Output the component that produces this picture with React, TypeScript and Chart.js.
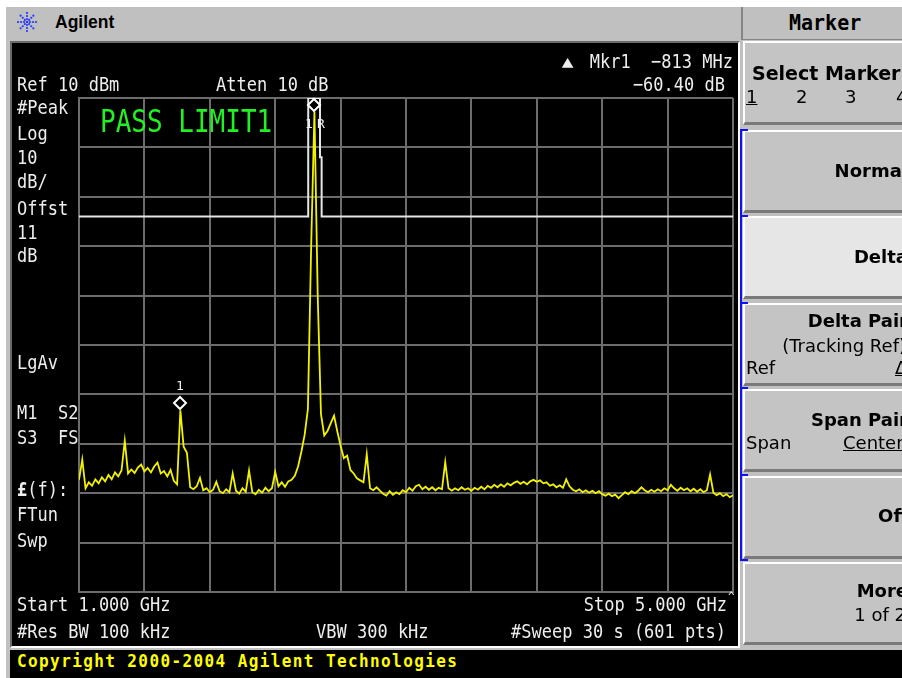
import React, { useEffect, useRef } from "react";
import { Chart, registerables } from "chart.js";

Chart.register(...registerables);

const startGHz = 1.0;
const stopGHz = 5.0;
const refLevelDbm = 10;
const bottomDbm = -90;
const gridDivisions = 11;

// 201 sweep points, 1.000 -> 5.000 GHz (dBm)
const traceDbm = [
  -67.3, -63.2, -69.0, -67.8, -68.5, -67.2, -68.0, -66.8, -67.6, -66.3,
  -67.2, -65.8, -66.6, -65.4, -59.4, -66.0, -65.2, -65.9, -64.8, -64.2,
  -65.6, -64.9, -65.8, -64.6, -63.8, -66.0, -65.5, -66.6, -65.3, -67.5,
  -68.2, -53.2, -60.6, -61.8, -68.8, -69.2, -68.6, -66.9, -69.4, -69.0,
  -69.8, -69.3, -67.7, -69.6, -70.0, -69.2, -69.8, -66.0, -69.5, -70.1,
  -69.0, -69.7, -65.4, -69.8, -70.2, -69.3, -69.9, -68.9, -69.6, -69.0,
  -65.7, -68.6, -67.8, -68.7, -67.6, -67.3, -66.5, -64.6, -61.6, -58.2,
  -53.0, -20.0, 7.2, -30.0, -54.0, -58.3, -57.4, -55.8, -54.3, -57.5,
  -60.4, -62.9, -62.4, -65.3, -66.0, -67.0, -67.4, -67.8, -62.1, -69.0,
  -69.4, -68.8, -69.5, -70.1, -70.5, -69.6, -70.3, -69.8, -70.2, -69.4,
  -69.8, -68.9, -69.5, -68.6, -68.3, -69.2, -68.7, -69.3, -68.8, -69.4,
  -68.9, -69.2, -63.7, -69.0, -69.5, -69.0, -69.4, -68.8, -69.3, -69.0,
  -69.5, -68.9, -69.3, -68.7, -69.2, -68.5, -68.9, -68.3, -68.8, -68.2,
  -68.7, -68.0, -68.4, -67.9, -67.6, -68.1, -67.7, -68.2, -67.6, -67.3,
  -67.7, -67.4, -68.0, -67.8, -68.5, -68.2, -68.8, -68.4, -68.9, -67.2,
  -68.6, -69.3, -69.6, -69.2, -69.8, -69.4, -69.9, -69.5, -70.0, -69.6,
  -70.2, -70.5, -70.1, -70.6, -70.3, -71.0, -70.4, -69.8, -70.2, -69.6,
  -70.0, -69.5, -68.8, -69.4, -69.8, -69.3, -69.7, -69.2, -69.6, -69.0,
  -69.4, -68.3, -69.0, -69.5, -68.9, -69.4, -69.0, -69.6, -69.1, -69.7,
  -69.2, -69.8, -69.4, -66.2, -69.9, -70.4, -70.0, -70.6, -70.2, -70.8,
  -70.4,
];

// LIMIT1 line
const limitFreqGHz = [1.0, 2.402, 2.402, 2.474, 2.474, 2.484, 2.484, 5.0];
const limitDbm = [-14, -14, 10, 10, -2, -2, -14, -14];

// markers
const markerLabels = ["1R", "1"];
const markerFreqGHz = [2.44, 1.62];
const markerDbm = [7.2, -53.2];

const gridColor = "#6c6c6c";
const traceColor = "#f2f200";

const markerPlugin = {
  id: "saMarkers",
  afterDatasetsDraw(chart: any) {
    const { ctx, scales } = chart;
    const xs = scales.x;
    const ys = scales.y;
    ctx.save();
    markerLabels.forEach((lbl, i) => {
      const px = Math.round(xs.getPixelForValue(markerFreqGHz[i]));
      const py = Math.round(ys.getPixelForValue(markerDbm[i])) - 7;
      ctx.beginPath();
      ctx.moveTo(px, py - 6);
      ctx.lineTo(px + 6, py);
      ctx.lineTo(px, py + 6);
      ctx.lineTo(px - 6, py);
      ctx.closePath();
      ctx.fillStyle = "#000";
      ctx.fill();
      ctx.strokeStyle = "#ffffff";
      ctx.lineWidth = 2;
      ctx.stroke();
      ctx.fillStyle = "#f0f0f0";
      ctx.font = '13px "DejaVu Sans Mono"';
      ctx.textBaseline = "middle";
      ctx.textAlign = "center";
      if (lbl === "1R") {
        ctx.fillText("1", px - 5, py + 20);
        ctx.fillText("R", px + 7, py + 20);
      } else {
        ctx.fillText(lbl, px, py - 16);
      }
    });
    ctx.restore();
  },
};

const mono = '"DejaVu Sans Mono", monospace';
const sans = '"DejaVu Sans", sans-serif';

function ST(props: { x?: number; r?: number; cy: number; t: React.ReactNode; size?: number; style?: React.CSSProperties }) {
  const size = props.size ?? 17;
  const s: React.CSSProperties = {
    position: "absolute",
    top: props.cy - 0.482 * size,
    fontFamily: mono,
    fontSize: size,
    lineHeight: 1,
    whiteSpace: "pre",
    color: "#ededed",
    transform: "scale(1, 1.18)",
    transformOrigin: "center 48%",
    ...props.style,
  };
  if (props.r !== undefined) s.right = 902 - props.r;
  else s.left = props.x;
  return <div style={s}>{props.t}</div>;
}

function KT(props: { x?: number; r?: number; cy: number; t: React.ReactNode; bold?: boolean; size?: number; style?: React.CSSProperties }) {
  const size = props.size ?? 18;
  const s: React.CSSProperties = {
    position: "absolute",
    top: props.cy - 0.482 * size,
    fontFamily: sans,
    fontWeight: props.bold ? "bold" : "normal",
    fontSize: size,
    lineHeight: 1,
    whiteSpace: "pre",
    color: "#000",
    ...props.style,
  };
  if (props.r !== undefined) s.right = 902 - props.r;
  else s.left = props.x;
  return <div style={s}>{props.t}</div>;
}

function Key(props: { top: number; h?: number; bg?: string }) {
  return (
    <div
      style={{
        position: "absolute",
        left: 743,
        top: props.top,
        width: 175,
        height: props.h ?? 82,
        boxSizing: "border-box",
        background: props.bg ?? "#c4c4c4",
        borderTop: "2px solid #ffffff",
        borderLeft: "2px solid #ffffff",
        borderBottom: "3px solid #7a7a7a",
      }}
    />
  );
}

function Logo() {
  const rays = [0, 45, 90, 135, 180, 225, 270, 315];
  const dots: React.ReactNode[] = [];
  rays.forEach((a, k) => {
    const rad = (a * Math.PI) / 180;
    [3, 6, 9].forEach((r, j) => {
      dots.push(
        <circle key={k + "-" + j} cx={10 + r * Math.cos(rad)} cy={10 + r * Math.sin(rad)} r={1.1} fill="#2438ff" />
      );
    });
  });
  return (
    <svg width={21} height={21} style={{ position: "absolute", left: 17, top: 12 }}>
      <circle cx={10} cy={10} r={1.3} fill="#2438ff" />
      {dots}
    </svg>
  );
}

export default function App() {
  const ref = useRef<HTMLCanvasElement>(null);

  useEffect(() => {
    const canvas = ref.current;
    if (!canvas) return;
    const n = traceDbm.length;
    const traceData = traceDbm.map((v, i) => ({
      x: startGHz + (i * (stopGHz - startGHz)) / (n - 1),
      y: v,
    }));
    const limitData = limitFreqGHz.map((f, i) => ({ x: f, y: limitDbm[i] }));
    const axisCommon = {
      type: "linear" as const,
      ticks: { display: false, count: gridDivisions },
      grid: { color: gridColor, lineWidth: 2, drawTicks: false },
      border: { display: true, color: gridColor, width: 2 },
    };
    const chart = new Chart(canvas, {
      type: "line",
      data: {
        datasets: [
          {
            label: "Trace",
            data: traceData,
            borderColor: traceColor,
            borderWidth: 1.8,
            pointRadius: 0,
            tension: 0,
          },
          {
            label: "LIMIT1",
            data: limitData,
            borderColor: "#e6e6e6",
            borderWidth: 2,
            pointRadius: 0,
            tension: 0,
          },
        ],
      },
      options: {
        responsive: false,
        animation: false,
        events: [],
        layout: { padding: { left: 79, top: 98, right: 169, bottom: 86 } },
        plugins: { legend: { display: false }, tooltip: { enabled: false } },
        scales: {
          x: { ...axisCommon, min: startGHz, max: stopGHz },
          y: { ...axisCommon, min: bottomDbm, max: refLevelDbm },
        },
      },
      plugins: [markerPlugin],
    });
    return () => chart.destroy();
  }, []);

  const keyTops = [130, 216, 303, 389, 476, 562];
  const tickYs = [129, 215, 302, 387, 474, 559];

  return (
    <div
      style={{
        position: "fixed",
        left: 0,
        top: 0,
        width: 902,
        height: 678,
        overflow: "hidden",
        background: "#c0c0c0",
      }}
    >
      {/* outer white margins */}
      <div style={{ position: "absolute", left: 0, top: 0, width: 902, height: 7, background: "#fff" }} />
      <div style={{ position: "absolute", left: 0, top: 0, width: 6, height: 678, background: "#fff" }} />

      {/* title bar */}
      <Logo />
      <div
        style={{
          position: "absolute",
          left: 55,
          top: 14,
          fontFamily: '"Liberation Sans", Arial, sans-serif',
          fontWeight: "bold",
          fontSize: 17.5,
          lineHeight: 1,
          color: "#000",
        }}
      >
        Agilent
      </div>

      {/* softkey header */}
      <div
        style={{
          position: "absolute",
          left: 741,
          top: 7,
          width: 170,
          height: 33,
          boxSizing: "border-box",
          borderLeft: "2px solid #858585",
          borderBottom: "1px solid #858585",
          background: "#c0c0c0",
        }}
      />
      <div
        style={{
          position: "absolute",
          left: 789,
          top: 12,
          fontFamily: mono,
          fontWeight: "bold",
          fontSize: 20,
          lineHeight: 1,
          color: "#000",
          transform: "scale(1, 1.1)",
        }}
      >
        Marker
      </div>

      {/* softkeys */}
      <Key top={41} h={84} />
      {keyTops.map((t, i) => (
        <Key key={t} top={t} h={83} bg={i === 1 ? "#e6e6e6" : "#c4c4c4"} />
      ))}
      {/* blue bracket */}
      <div style={{ position: "absolute", left: 740, top: 129, width: 2, height: 432, background: "#1010ff" }} />
      {tickYs.map((y) => (
        <div key={y} style={{ position: "absolute", left: 740, top: y, width: 8, height: 2, background: "#1010ff" }} />
      ))}

      {/* screen */}
      <div
        style={{
          position: "absolute",
          left: 10,
          top: 41,
          width: 730,
          height: 607,
          boxSizing: "border-box",
          background: "#000",
          borderTop: "2px solid #6a6a6a",
          borderLeft: "2px solid #6a6a6a",
          borderBottom: "2px solid #ffffff",
          borderRight: "2px solid #ffffff",
        }}
      />

      {/* copyright bar */}
      <div style={{ position: "absolute", left: 10, top: 650, width: 892, height: 28, background: "#000" }} />
      <div
        style={{
          position: "absolute",
          left: 17,
          top: 653,
          fontFamily: mono,
          fontWeight: "bold",
          fontSize: 16,
          letterSpacing: 1.4,
          lineHeight: 1,
          whiteSpace: "pre",
          color: "#ffff00",
          transform: "scale(1, 1.12)",
          transformOrigin: "left center",
        }}
      >
        Copyright 2000-2004 Agilent Technologies
      </div>

      <canvas ref={ref} width={902} height={678} style={{ position: "absolute", left: 0, top: 0, width: 902, height: 678 }} />

      {/* screen annotations */}
      <ST x={563} cy={61} size={18} t="▴" style={{ fontFamily: '"DejaVu Sans", sans-serif', fontWeight: "bold", transform: "scale(1.3, 1.1)" }} />
      <ST r={733} cy={61} t="Mkr1  −813 MHz" />
      <ST x={17} cy={84} t="Ref 10 dBm" />
      <ST x={216} cy={84} t="Atten 10 dB" />
      <ST r={725} cy={84} t="−60.40 dB" />
      <ST x={17} cy={107} t="#Peak" />
      <ST x={17} cy={133} t="Log" />
      <ST x={17} cy={157} t="10" />
      <ST x={17} cy={181} t="dB/" />
      <ST x={17} cy={208} t="Offst" />
      <ST x={17} cy={232} t="11" />
      <ST x={17} cy={255} t="dB" />
      <ST x={17} cy={362} t="LgAv" />
      <ST x={17} cy={412} t="M1  S2" />
      <ST x={17} cy={437} t="S3  FS" />
      <ST x={17} cy={489} t={<span><b>£</b>(f):</span>} />
      <ST x={17} cy={514} t="FTun" />
      <ST x={17} cy={540} t="Swp" />
      <ST x={17} cy={604} t="Start 1.000 GHz" />
      <ST r={727} cy={604} t="Stop 5.000 GHz" />
      <ST x={728} cy={596} size={11} t="^" />
      <ST x={17} cy={631} t="#Res BW 100 kHz" />
      <ST x={316} cy={631} t="VBW 300 kHz" />
      <ST r={726} cy={631} t="#Sweep 30 s (601 pts)" />
      <ST
        x={100}
        cy={121}
        size={26}
        t="PASS LIMIT1"
        style={{ color: "#22f022", transform: "scale(1, 1.25)", transformOrigin: "left center" }}
      />

      {/* softkey labels */}
      <KT x={752} cy={73} bold size={19} t="Select Marker" />
      <KT x={746} cy={97} t="1" style={{ textDecoration: "underline" }} />
      <KT x={796} cy={97} t="2" />
      <KT x={845} cy={97} t="3" />
      <KT x={896} cy={97} t="4" />
      <KT r={908} cy={171} bold t="Normal" />
      <KT r={908} cy={257} bold t="Delta" />
      <KT r={908} cy={321} bold t="Delta Pair" />
      <KT r={906} cy={346} t="(Tracking Ref)" />
      <KT x={746} cy={368} t="Ref" />
      <KT x={895} cy={368} t="Δ" style={{ textDecoration: "underline" }} />
      <KT r={908} cy={420} bold t="Span Pair" />
      <KT x={746} cy={443} t="Span" />
      <KT x={843} cy={443} t="Center" style={{ textDecoration: "underline" }} />
      <KT r={908} cy={516} bold t="Off" />
      <KT r={908} cy={591} bold t="More" />
      <KT r={906} cy={615} t="1 of 2" />
    </div>
  );
}
